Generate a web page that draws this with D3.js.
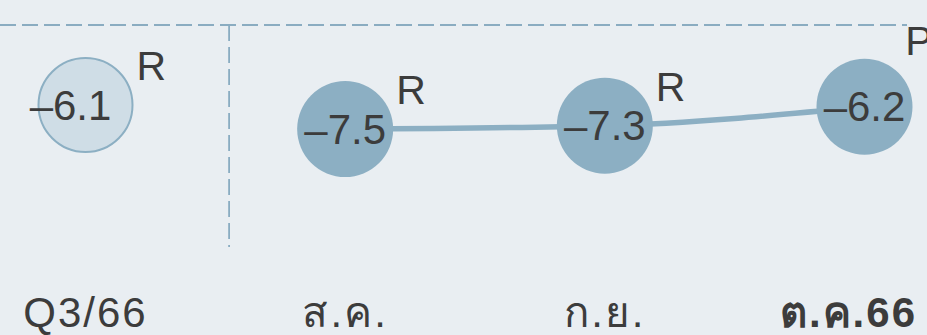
<!DOCTYPE html>
<html>
<head>
<meta charset="utf-8">
<script src="https://cdn.jsdelivr.net/npm/d3@7"></script>
<style>
  html, body { margin: 0; padding: 0; background: #e9eef2; }
  svg { display: block; font-family: "Liberation Sans", Arial, "Noto Sans", sans-serif; }
</style>
</head>
<body>
<div id="chart"></div>
<script>
var w = 927
var h = 335

// data
var categories = ["Q3/66", "ส.ค.", "ก.ย.", "ต.ค.66"]
var values = [-6.1, -7.5, -7.3, -6.2]
var flags = ["R", "R", "R", "P"]
var kinds = ["quarter", "month", "month", "month"]   // quarter point is drawn hollow, months are joined by the line

var top_line = 25
var rad = 48
var text_col = "#3c3c3c"
var blue = "#8cafc3"

var svg = d3.select("#chart")
  .append("svg")
  .attr("width", w)
  .attr("height", h)

svg.append("rect").attr("width", w).attr("height", h).attr("fill", "#e9eef2")

var x = d3.scalePoint().domain(categories).range([85.5, 864.5])
var y = d3.scaleLinear().domain([-14, 0]).range([241, 0])

var pts = categories.map(function(c, i){
  return {cat: c, v: values[i], flag: flags[i], kind: kinds[i], i: i}
})

// top dashed rule
svg.append("line")
  .attr("x1", 0).attr("x2", 907)
  .attr("y1", top_line).attr("y2", top_line)
  .attr("stroke", "#8aacc1").attr("stroke-width", 1.8)
  .attr("stroke-dasharray", "16 6")

// divider between quarter and months
var divX = x(categories[1]) - x.step() * 0.447
svg.append("line")
  .attr("x1", divX).attr("x2", divX)
  .attr("y1", top_line).attr("y2", 247)
  .attr("stroke", "#8aacc1").attr("stroke-width", 1.8)
  .attr("stroke-dasharray", "16 6")

// line through the monthly points
var months = pts.filter(function(d){ return d.kind == "month" })
var line = d3.line()
  .x(function(d){ return x(d.cat) })
  .y(function(d){ return y(d.v) })
  .curve(d3.curveMonotoneX)

svg.append("path")
  .datum(months)
  .attr("d", line)
  .attr("fill", "none")
  .attr("stroke", blue)
  .attr("stroke-width", 5.5)

var g = svg.selectAll(".pt")
  .data(pts)
  .enter().append("g")
  .attr("class", "pt")

g.append("circle")
  .attr("cx", function(d){ return x(d.cat) })
  .attr("cy", function(d){ return y(d.v) })
  .attr("r", function(d){ return d.kind == "quarter" ? rad - 1 : rad })
  .attr("fill", function(d){ return d.kind == "quarter" ? "#cfdde6" : blue })
  .attr("stroke", function(d){ return d.kind == "quarter" ? blue : "none" })
  .attr("stroke-width", 2)

g.append("text")
  .attr("x", function(d){ return x(d.cat) + (d.kind == "quarter" ? -15 : 0) })
  .attr("y", function(d){ return y(d.v) })
  .attr("dy", "0.35em")
  .attr("text-anchor", "middle")
  .attr("font-size", 42)
  .attr("fill", text_col)
  .text(function(d){ return d.v.toFixed(1).replace("-", "\u2013") })

// R / P flags, pushed above the bubble when there is no room on the right
g.append("text")
  .attr("x", function(d){
    var cx = x(d.cat)
    return (cx + rad + 28 > w) ? cx + rad * 0.85 : cx + rad + 3
  })
  .attr("y", function(d){
    var cx = x(d.cat), cy = y(d.v)
    return (cx + rad + 28 > w) ? cy - rad - 4 : cy - rad * 0.52
  })
  .attr("font-size", 41)
  .attr("fill", text_col)
  .text(function(d){ return d.flag })

// category labels
svg.selectAll(".cat-label")
  .data(pts)
  .enter().append("text")
  .attr("class", "cat-label")
  .attr("x", function(d, i){ return i == categories.length - 1 ? w - 10 : x(d.cat) })
  .attr("y", 327)
  .attr("text-anchor", function(d, i){ return i == categories.length - 1 ? "end" : "middle" })
  .attr("font-size", 42)
  .attr("letter-spacing", 2)
  .attr("font-weight", function(d, i){ return i == categories.length - 1 ? "bold" : "normal" })
  .attr("fill", text_col)
  .text(function(d){ return d.cat })
</script>
</body>
</html>
